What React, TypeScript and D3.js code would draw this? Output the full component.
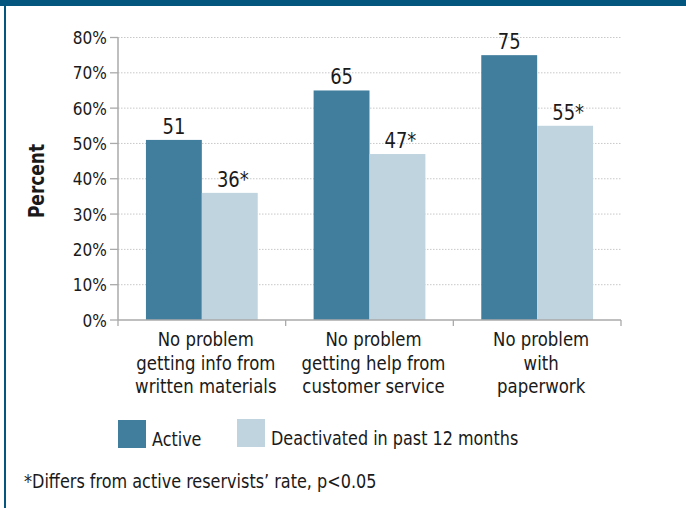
import React from "react";
import * as d3 from "d3";

const categories = [
  ["No problem", "getting info from", "written materials"],
  ["No problem", "getting help from", "customer service"],
  ["No problem", "with", "paperwork"],
];
const categoryKeys = ["written", "service", "paperwork"];
const seriesNames = ["Active", "Deactivated in past 12 months"];
const activeValues = [51, 65, 75];
const deactivatedValues = [36, 47, 55];
const deactivatedLabels = ["36*", "47*", "55*"];
const activeLabels = ["51", "65", "75"];
const yTicks = [0, 10, 20, 30, 40, 50, 60, 70, 80];
const footnote = "*Differs from active reservists\u2019 rate, p<0.05";

const W = 686;
const H = 508;
const FONT = "'Liberation Sans Narrow', 'DejaVu Sans Condensed', 'Open Sans', sans-serif";
const colors = ["#417e9e", "#bfd4df"];
const border = "#04567f";

function SText({ x, y, sx = 1, anchor = "start", size, weight = "normal", children }: any) {
  return (
    <g transform={`translate(${x},${y}) scale(${sx},1)`}>
      <text x={0} y={0} textAnchor={anchor} fontSize={size} fontWeight={weight} fill="#1a1a1a">
        {children}
      </text>
    </g>
  );
}

export default function App() {
  const left = 118, right = 621, top = 37.5, bottom = 320;
  const y = d3.scaleLinear().domain([0, 80]).range([bottom, top]);
  const x0 = d3.scaleBand<string>().domain(categoryKeys).range([left, right]).padding(0);
  const x1 = d3.scaleBand<number>().domain([0, 1]).range([0, x0.bandwidth()]).paddingInner(0).paddingOuter(0.5);
  const series = [activeValues, deactivatedValues];
  const labels = [activeLabels, deactivatedLabels];
  const boundaries = [...categoryKeys.map((k) => x0(k) as number), right];

  return (
    <svg width={W} height={H} style={{ position: "absolute", left: 0, top: 0, fontFamily: FONT }}>
      <rect x={0} y={0} width={W} height={H} fill="#fff" />
      <rect x={0} y={0} width={W} height={6} fill={border} />
      <rect x={4} y={0} width={2} height={H} fill={border} />
      {yTicks.map((t) => (
        <g key={t}>
          {t > 0 && (
            <line x1={left} x2={right} y1={y(t)} y2={y(t)} stroke="#c8c8c8" strokeDasharray="1.5,1.5" strokeWidth={1} />
          )}
          <line x1={left - 8} x2={left} y1={y(t)} y2={y(t)} stroke="#aaa" strokeWidth={1.3} />
          <SText x={left - 11} y={y(t) + 6.5} sx={0.95} anchor="end" size={18}>
            {t}%
          </SText>
        </g>
      ))}
      {categoryKeys.map((k, ci) =>
        series.map((vals, si) => (
          <g key={k + si}>
            <rect
              x={(x0(k) as number) + (x1(si) as number)}
              y={y(vals[ci])}
              width={x1.bandwidth()}
              height={bottom - y(vals[ci])}
              fill={colors[si]}
            />
            <SText
              x={(x0(k) as number) + (x1(si) as number) + x1.bandwidth() / 2 + (si === 1 ? 3 : 0)}
              y={y(vals[ci]) - 6}
              sx={0.95}
              anchor="middle"
              size={21}
            >
              {labels[si][ci]}
            </SText>
          </g>
        ))
      )}
      <line x1={left} x2={left} y1={top} y2={bottom} stroke="#aaa" strokeWidth={1.5} />
      <line x1={left} x2={right} y1={bottom} y2={bottom} stroke="#aaa" strokeWidth={1.5} />
      {boundaries.map((b, i) => (
        <line key={i} x1={b} x2={b} y1={bottom} y2={bottom + 6} stroke="#aaa" strokeWidth={1.3} />
      ))}
      {categoryKeys.map((k, ci) =>
        categories[ci].map((line, li) => (
          <SText key={k + li} x={(x0(k) as number) + x0.bandwidth() / 2 + 4} y={346 + li * 23.5} sx={0.92} anchor="middle" size={20}>
            {line}
          </SText>
        ))
      )}
      <g transform={`translate(${44},${181}) rotate(-90) scale(0.9,1)`}>
        <text x={0} y={0} textAnchor="middle" fontSize={21} fontWeight="bold" fill="#1a1a1a">
          Percent
        </text>
      </g>
      <rect x={118} y={420} width={28} height={28} fill={colors[0]} />
      <SText x={152} y={446} sx={0.89} size={20}>{seriesNames[0]}</SText>
      <rect x={237} y={419} width={28} height={28} fill={colors[1]} />
      <SText x={271} y={445} sx={0.89} size={20}>{seriesNames[1]}</SText>
      <SText x={24} y={488} sx={0.94} size={19}>{footnote}</SText>
    </svg>
  );
}
